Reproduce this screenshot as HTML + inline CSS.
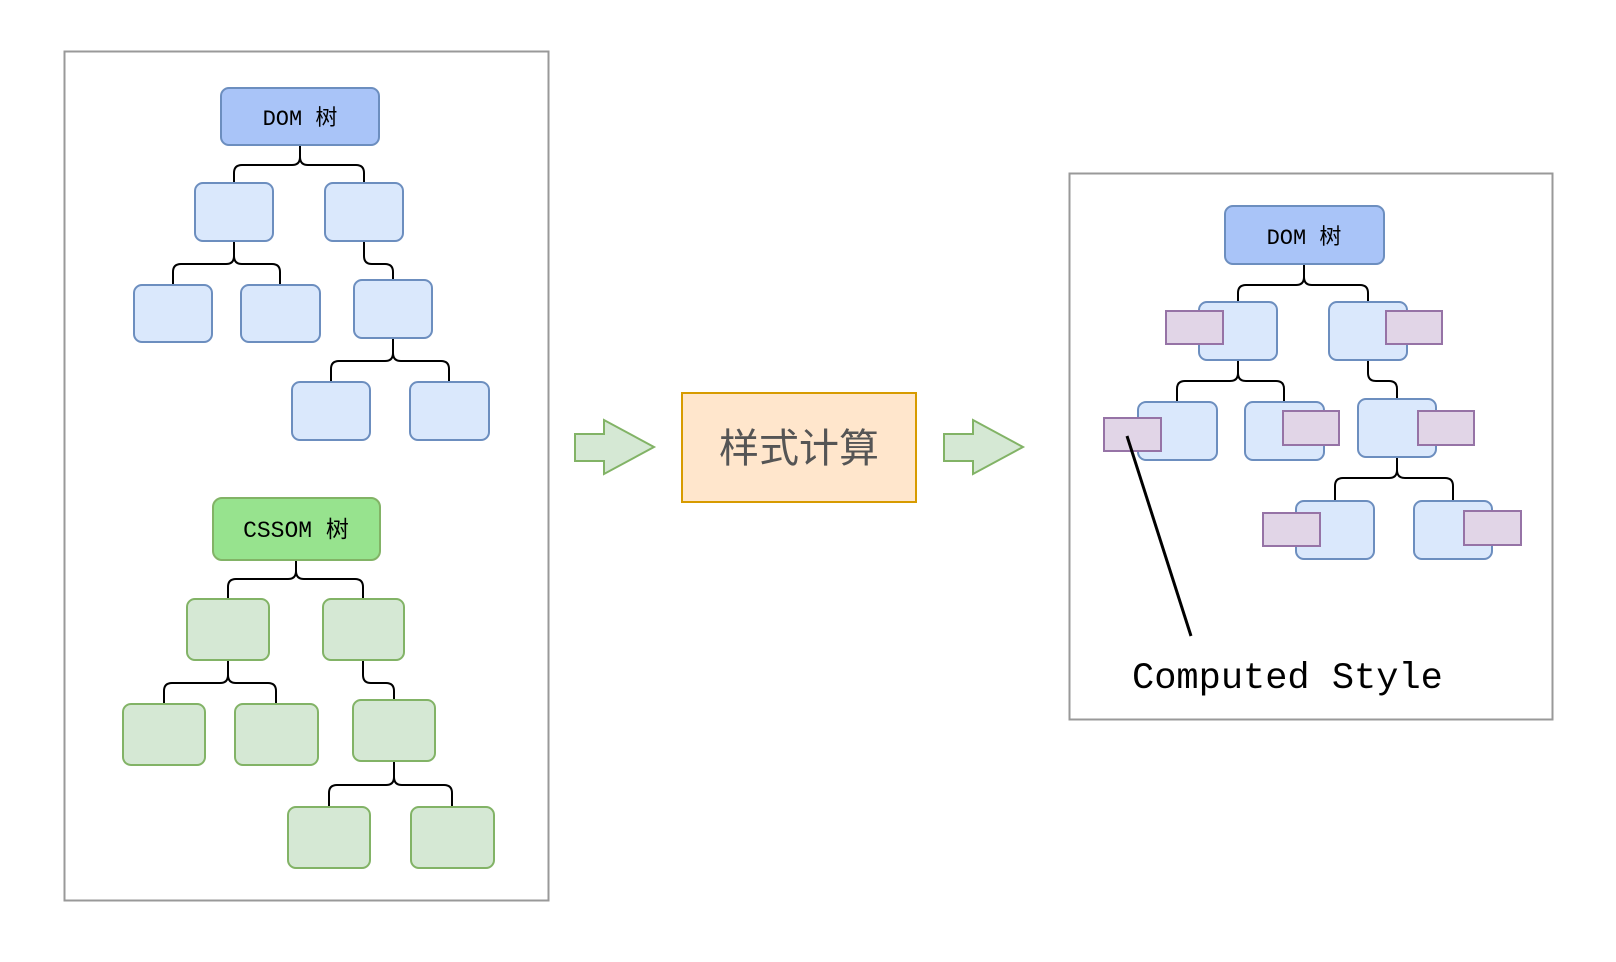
<!DOCTYPE html>
<html><head><meta charset="utf-8"><style>
html,body{margin:0;padding:0;background:#fff;}
svg{display:block}
.t{font-family:"Liberation Mono","Noto Sans CJK SC",monospace;}
</style></head><body>
<svg width="1616" height="962" viewBox="0 0 1616 962" xmlns="http://www.w3.org/2000/svg">
<rect x="0" y="0" width="1616" height="962" fill="#fff"/>
<!-- left panel -->
<rect x="64.5" y="51.5" width="484" height="849" fill="#fff" stroke="#999" stroke-width="2"/>
<g fill="none" stroke="#000" stroke-width="2">
<path d="M300 145 V157 Q300 165 292 165 H242 Q234 165 234 173 V183"/>
<path d="M300 145 V157 Q300 165 308 165 H356 Q364 165 364 173 V183"/>
<path d="M234 241 V256 Q234 264 226 264 H181 Q173 264 173 272 V285"/>
<path d="M234 241 V256 Q234 264 242 264 H272 Q280 264 280 272 V285"/>
<path d="M364 241 V256 Q364 264 372 264 H385 Q393 264 393 272 V280"/>
<path d="M393 338 V353 Q393 361 385 361 H339 Q331 361 331 369 V382"/>
<path d="M393 338 V353 Q393 361 401 361 H441 Q449 361 449 369 V382"/>
<path d="M296 560 V571 Q296 579 288 579 H236 Q228 579 228 587 V599"/>
<path d="M296 560 V571 Q296 579 304 579 H355 Q363 579 363 587 V599"/>
<path d="M228 660 V675 Q228 683 220 683 H172 Q164 683 164 691 V704"/>
<path d="M228 660 V675 Q228 683 236 683 H268 Q276 683 276 691 V704"/>
<path d="M363 660 V675 Q363 683 371 683 H386 Q394 683 394 691 V700"/>
<path d="M394 761 V777 Q394 785 386 785 H337 Q329 785 329 793 V807"/>
<path d="M394 761 V777 Q394 785 402 785 H444 Q452 785 452 793 V807"/>
</g>
<g stroke="#6c8ebf" stroke-width="2">
<rect x="221" y="88" width="158" height="57" rx="8" fill="#a9c4f8"/>
<g fill="#dae8fc">
<rect x="195" y="183" width="78" height="58" rx="8"/>
<rect x="325" y="183" width="78" height="58" rx="8"/>
<rect x="134" y="285" width="78" height="57" rx="8"/>
<rect x="241" y="285" width="79" height="57" rx="8"/>
<rect x="354" y="280" width="78" height="58" rx="8"/>
<rect x="292" y="382" width="78" height="58" rx="8"/>
<rect x="410" y="382" width="79" height="58" rx="8"/>
</g></g>
<text x="300" y="125" class="t" font-size="22" text-anchor="middle">DOM 树</text>
<g stroke="#82b366" stroke-width="2">
<rect x="213" y="498" width="167" height="62" rx="9" fill="#97e38e"/>
<g fill="#d5e8d4">
<rect x="187" y="599" width="82" height="61" rx="8"/>
<rect x="323" y="599" width="81" height="61" rx="8"/>
<rect x="123" y="704" width="82" height="61" rx="8"/>
<rect x="235" y="704" width="83" height="61" rx="8"/>
<rect x="353" y="700" width="82" height="61" rx="8"/>
<rect x="288" y="807" width="82" height="61" rx="8"/>
<rect x="411" y="807" width="83" height="61" rx="8"/>
</g></g>
<text x="296" y="537" class="t" font-size="23" text-anchor="middle">CSSOM 树</text>
<!-- arrows -->
<polygon points="575,434 604,434 604,420 654,447 604,474 604,461 575,461" fill="#d5e8d4" stroke="#82b366" stroke-width="2"/>
<polygon points="944,434 973,434 973,420 1023,447 973,474 973,461 944,461" fill="#d5e8d4" stroke="#82b366" stroke-width="2"/>
<rect x="682" y="393" width="234" height="109" fill="#ffe6cc" stroke="#d79b00" stroke-width="2"/>
<text x="799" y="462" font-family="'Noto Sans CJK SC',sans-serif" font-size="40" fill="#555" text-anchor="middle">样式计算</text>
<!-- right panel -->
<rect x="1069.5" y="173.5" width="483" height="546" fill="#fff" stroke="#999" stroke-width="2"/>
<g fill="none" stroke="#000" stroke-width="2">
<path d="M1304 264 V277 Q1304 285 1296 285 H1246 Q1238 285 1238 293 V302"/>
<path d="M1304 264 V277 Q1304 285 1312 285 H1360 Q1368 285 1368 293 V302"/>
<path d="M1238 360 V373 Q1238 381 1230 381 H1185 Q1177 381 1177 389 V402"/>
<path d="M1238 360 V373 Q1238 381 1246 381 H1276 Q1284 381 1284 389 V402"/>
<path d="M1368 360 V373 Q1368 381 1376 381 H1389 Q1397 381 1397 389 V399"/>
<path d="M1397 457 V470 Q1397 478 1389 478 H1343 Q1335 478 1335 486 V501"/>
<path d="M1397 457 V470 Q1397 478 1405 478 H1445 Q1453 478 1453 486 V501"/>
</g>
<g stroke="#6c8ebf" stroke-width="2">
<rect x="1225" y="206" width="159" height="58" rx="8" fill="#a9c4f8"/>
<g fill="#dae8fc">
<rect x="1199" y="302" width="78" height="58" rx="8"/>
<rect x="1329" y="302" width="78" height="58" rx="8"/>
<rect x="1138" y="402" width="79" height="58" rx="8"/>
<rect x="1245" y="402" width="79" height="58" rx="8"/>
<rect x="1358" y="399" width="78" height="58" rx="8"/>
<rect x="1296" y="501" width="78" height="58" rx="8"/>
<rect x="1414" y="501" width="78" height="58" rx="8"/>
</g></g>
<text x="1304" y="244" class="t" font-size="22" text-anchor="middle">DOM 树</text>
<g fill="#e1d5e7" stroke="#9673a6" stroke-width="2">
<rect x="1166" y="311" width="57" height="33"/>
<rect x="1386" y="311" width="56" height="33"/>
<rect x="1104" y="418" width="57" height="33"/>
<rect x="1283" y="411" width="56" height="34"/>
<rect x="1418" y="411" width="56" height="34"/>
<rect x="1263" y="513" width="57" height="33"/>
<rect x="1464" y="511" width="57" height="34"/>
</g>
<line x1="1127" y1="436" x2="1191" y2="636" stroke="#000" stroke-width="3"/>
<text x="1132" y="688" class="t" font-size="37">Computed Style</text>
</svg>
</body></html>
